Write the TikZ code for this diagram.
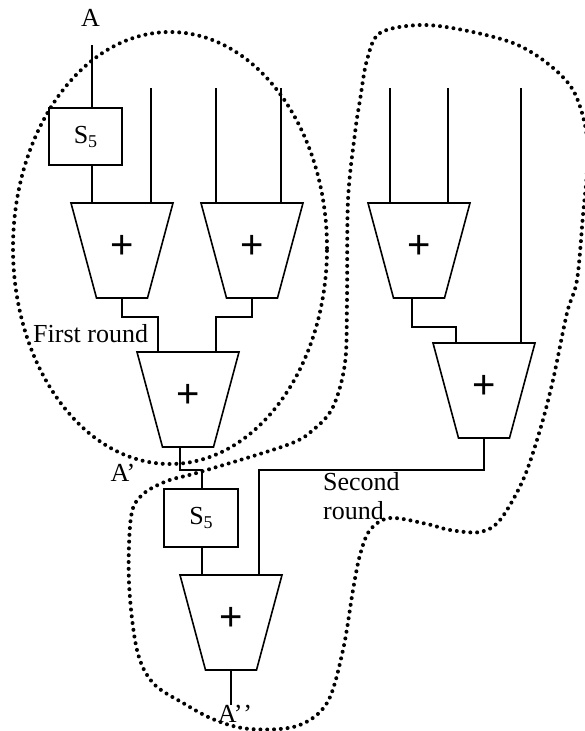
\documentclass[tikz,border=0pt]{standalone}
\usepackage{fontspec}
\setmainfont{Liberation Serif}
\newfontfamily\plusfont{Liberation Sans}
\newcommand\adder[3]{%
  \draw[wire] (#2-51,#3) -- (#2+51,#3) -- (#2+25.5,#3+95) -- (#2-25.5,#3+95) -- cycle;
  \node[plus] (#1) at (#2,#3+44) {+};
  \coordinate (#1-top) at (#2,#3);
  \coordinate (#1-bot) at (#2,#3+95);}
\begin{document}
\begin{tikzpicture}[x=1pt,y=-1pt,
  wire/.style={line width=1.6pt},
  blk/.style={draw,line width=1.6pt,minimum width=73pt,minimum height=57pt,inner sep=0pt,font=\fontsize{26}{30}\selectfont},
  lbl/.style={inner sep=0pt,font=\fontsize{26}{30}\selectfont},
  plus/.style={inner sep=0pt,font=\plusfont\fontsize{40}{40}\selectfont},
  dots/.style={line width=4pt,line cap=round,dash pattern=on 0pt off 6.8pt}]
\useasboundingbox (0,0) rectangle (585,731);
\clip (0,0) rectangle (585,731);

% adders
\adder{a1}{122}{203}
\adder{a2}{252}{203}
\adder{a3}{419}{203}
\adder{a4}{484}{343}
\adder{a5}{188}{352}
\adder{a6}{231}{575}

% S5 boxes
\node[blk] (s5a) at (85.5,136.5) {S\raisebox{-4pt}{\fontsize{18}{18}\selectfont 5}};
\node[blk,minimum width=74pt,minimum height=58pt] (s5b) at (201,518) {S\raisebox{-4pt}{\fontsize{18}{18}\selectfont 5}};

% labels
\node[lbl] (lA) at (90.5,18) {A};
\node[lbl] (lA1) at (123,473) {A’};
\node[lbl] (lA2) at (235,714) {A’\kern1pt’};
\node[lbl,anchor=base west] (r1) at (33,342) {First round};
\node[lbl,anchor=base west] (r2a) at (323,490) {Second};
\node[lbl,anchor=base west] (r2b) at (323,519) {round};

% input coordinates
\coordinate (inA) at (92,45);
\coordinate (i2) at (151,88);
\coordinate (i3) at (216,88);
\coordinate (i4) at (281,88);
\coordinate (i5) at (390,88);
\coordinate (i6) at (448,88);
\coordinate (i7) at (521,88);
\coordinate (a5i1) at (158,352);
\coordinate (a5i2) at (216,352);
\coordinate (a3o) at (412,298);
\coordinate (a4i1) at (456,343);
\coordinate (a6i2) at (259,575);
\coordinate (a5o) at (180,447);
\coordinate (s5bi) at (202,489);

% wires
\draw[wire] (inA) -- (inA |- s5a.north);
\draw[wire] (inA |- s5a.south) -- (inA |- a1-top);
\draw[wire] (i2) -- (i2 |- a1-top);
\draw[wire] (i3) -- (i3 |- a2-top);
\draw[wire] (i4) -- (i4 |- a2-top);
\draw[wire] (i5) -- (i5 |- a3-top);
\draw[wire] (i6) -- (i6 |- a3-top);
\draw[wire] (i7) -- (i7 |- a4-top);
\draw[wire] (a1-bot) -- ++(0,19) -| (a5i1);
\draw[wire] (a2-bot) -- ++(0,19) -| (a5i2);
\draw[wire] (a3o) -- ++(0,29) -| (a4i1);
\draw[wire] (a4-bot) -- ++(0,32) -| (a6i2);
\draw[wire] (a5o) -- ++(0,23) -| (s5bi);
\draw[wire] (s5bi |- s5b.south) -- (s5bi |- a6-top);
\draw[wire] (a6-bot) -- ++(0,35);

% dotted groups
\draw[dots] (170,248) ellipse [x radius=157pt, y radius=216pt];
\draw[dots] plot[smooth cycle, tension=0.55] coordinates {
 (367,60) (380,33) (420,25) (463,30) (513,43) (547,63) (573,90) (586,130) (587,170)
 (583,215) (577,280) (567,313) (553,380) (540,430) (523,480) (500,520) (480,532)
 (450,530) (427,524) (390,518) (370,530) (360,555) (353,590) (343,650) (327,703)
 (297,726) (250,729) (215,720) (183,703) (153,683) (137,650) (129,583) (131,517)
 (142,495) (167,481) (200,472) (287,445) (313,430) (333,407) (345,363) (347,300)
 (348,200) (355,133) (360,100)};
\end{tikzpicture}
\end{document}
